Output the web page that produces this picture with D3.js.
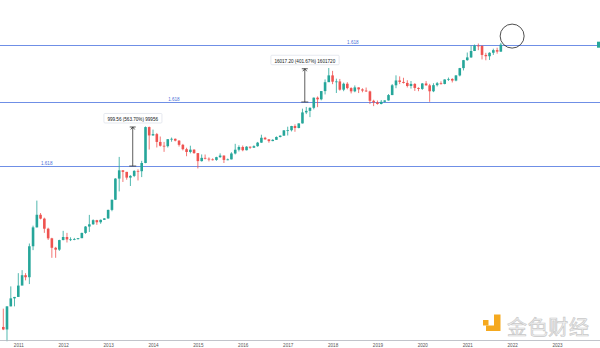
<!DOCTYPE html>
<html><head><meta charset="utf-8">
<script src="https://cdn.jsdelivr.net/npm/d3@7"></script>
<style>html,body{margin:0;padding:0;background:#fff;overflow:hidden}svg{display:block}</style>
</head><body><svg id="c" width="600" height="348"></svg>
<script>
// ---- data (monthly BTC candles, Sep 2010 .. Oct 2021) ----
const firstMonth = "2010-09";
const opens = [0.07,0.062,0.19,0.28,
 0.30,0.52,0.86,0.78,3.50,8.74,16.1,13.35,8.19,5.14,3.25,2.97,
 4.72,5.48,4.86,4.9,4.95,5.18,6.68,9.1,10.15,12.4,11.2,12.6,
 13.5,20.4,33.4,93,139,128.8,97.5,106,135,133,198,1130,
 754,803,550,457,448,628,640,585,478,387,338,378,
 320,217,254,244,236,230,263,284,230,236,314,377,
 430,368,437,416,448,531,673,624,573,609,698,745,
 964,970,1190,1080,1350,2300,2480,2875,4700,4340,6470,9950,
 13850,10200,10330,6920,9240,7480,6390,7730,7030,6630,6370,4040,
 3740,3460,3850,4110,5330,8570,10820,10090,9600,8290,9150,7540,
 7190,9350,8540,6410,8630,9450,9140,11350,11650,10780,13800,19700,
 28990,33110,45140,58790,57750,37330,35040,41460,47100,43800];
const highs = [0.17,0.19,0.50,0.30,
 0.95,1.10,0.95,4.0,9.5,32,17.5,14.0,8.6,5.28,3.4,4.8,
 7.38,6.7,5.4,5.25,5.2,6.75,9.3,16.0,12.9,12.6,12.8,13.7,
 20.6,33.4,95,266,140,129,110,140,146,220,1163,1160,
 1000,850,715,550,630,680,650,600,500,415,458,386,
 320,300,299,260,248,268,316,285,246,334,502,467,
 462,448,439,466,550,780,704,626,627,720,755,975,
 1150,1200,1290,1350,2760,3000,2940,4740,4980,6470,11400,19800,
 17250,11800,11650,9760,9950,7780,8500,7760,7410,7680,6600,4250,
 4090,4200,4140,5600,9090,13880,13200,12330,10950,10540,9510,7750,
 9580,10500,9190,9460,10070,10380,11430,12470,12070,14100,19900,29300,
 41950,58350,61780,64850,59500,41330,42400,50500,52950,67000];
const lows = [0.06,0.035,0.19,0.19,
 0.30,0.71,0.67,0.56,2.9,8.7,12.9,6.7,4.75,2.0,2.0,2.8,
 4.68,4.2,4.5,4.7,4.85,5.18,6.4,7.0,9.9,9.9,10.4,12.6,
 13.2,19.1,33,50,79,88,65,100,85,100,196,380,
 740,420,440,340,420,555,565,440,365,275,316,310,
 152,212,236,214,224,220,254,198,226,236,300,347,
 350,365,393,412,436,526,612,530,570,604,685,742,
 752,915,900,1065,1345,2120,1830,2670,2970,4130,5500,10400,
 9050,5900,6600,6430,7030,5780,6120,5880,6100,6200,3450,3120,
 3350,3400,3730,4080,5330,7440,9080,9340,7710,7300,6530,6430,
 6850,8440,3850,6150,8100,8830,8970,10600,9820,10400,13200,17600,
 28130,32300,45000,47000,30000,28800,29280,37330,39600,43280];
const closes = [0.062,0.19,0.28,0.30,
 0.52,0.86,0.78,3.50,8.74,16.1,13.35,8.19,5.14,3.25,2.97,4.72,
 5.48,4.86,4.9,4.95,5.18,6.68,9.1,10.15,12.4,11.2,12.6,13.5,
 20.4,33.4,93,139,128.8,97.5,106,135,133,198,1130,754,
 803,550,457,448,628,640,585,478,387,338,378,320,
 217,254,244,236,230,263,284,230,236,314,377,430,
 368,437,416,448,531,673,624,573,609,698,745,964,
 970,1190,1080,1350,2300,2480,2875,4700,4340,6470,9950,13850,
 10200,10330,6920,9240,7480,6390,7730,7030,6630,6370,4040,3740,
 3460,3850,4110,5330,8570,10820,10090,9600,8290,9150,7540,7190,
 9350,8540,6410,8630,9450,9140,11350,11650,10780,13800,19700,28990,
 33110,45140,58790,57750,37330,35040,41460,47100,43800,61300];

const years = [2011,2012,2013,2014,2015,2016,2017,2018,2019,2020,2021,2022,2023];
const levels = [60400, 3810, 171];
const levelLabels = ["1.618","1.618","1.618"];
const levelLabelDates = ["2018-06-15","2014-06-20","2011-08-20"];

const measureFrom = [171, 3810];
const measureTo = [1135, 19110];
const measureDates = ["2013-07-20","2017-05-20"];
const measureTexts = ["999.56 (563.70%) 99956","16017.20 (401.67%) 1601720"];

const circleMark = {date:"2022-01-01", price:93000};
const lastPrice = 61300;

// ---- scales ----
const W = 600, H = 348;
const svg = d3.select("#c");
const parseM = d3.timeParse("%Y-%m");
const parseD = d3.timeParse("%Y-%m-%d");
const x = d3.scaleTime().domain([new Date(2011,0,1), new Date(2023,0,1)]).range([18.3, 557]);
const y = d3.scaleLog().domain([0.04, 100000]).range([338.5, 34.6]);

const start = parseM(firstMonth);
const data = opens.map((o,i)=>({date:d3.timeMonth.offset(start,i),o,h:highs[i],l:lows[i],c:closes[i]}));

const green = "#26a69a", red = "#ef5350", blue = "#6f8fe6";

// level lines
const lv = svg.append("g");
lv.selectAll("line").data(levels).join("line")
  .attr("x1",0).attr("x2",W)
  .attr("y1",d=>Math.round(y(d))+0.5).attr("y2",d=>Math.round(y(d))+0.5)
  .attr("stroke",blue).attr("stroke-width",1);
lv.selectAll("text").data(levels).join("text")
  .attr("x",(d,i)=>x(parseD(levelLabelDates[i])))
  .attr("y",d=>Math.round(y(d))-1.5)
  .attr("text-anchor","middle")
  .attr("font-family","Arial, Liberation Sans, sans-serif")
  .attr("font-size",4.6).attr("fill","#4a6fd8")
  .text((d,i)=>levelLabels[i]);

// candles
const cg = svg.append("g");
const bw = 2.6;
cg.selectAll("line.w").data(data).join("line").attr("class","w")
  .attr("x1",d=>x(d.date)).attr("x2",d=>x(d.date))
  .attr("y1",d=>y(d.h)).attr("y2",d=>y(d.l))
  .attr("stroke",d=>d.c>=d.o?green:red).attr("stroke-width",0.8);
cg.selectAll("rect").data(data).join("rect")
  .attr("x",d=>x(d.date)-bw/2).attr("width",bw)
  .attr("y",d=>y(Math.max(d.o,d.c)))
  .attr("height",d=>Math.max(0.8, Math.abs(y(d.o)-y(d.c))))
  .attr("fill",d=>d.c>=d.o?green:red);

// measure arrows and labels
const mg = svg.append("g");
measureFrom.forEach((f,i)=>{
  const xx = x(parseD(measureDates[i]));
  const y0 = y(f), y1 = y(measureTo[i]);
  mg.append("line").attr("x1",xx).attr("x2",xx).attr("y1",y0).attr("y2",y1)
    .attr("stroke","#333").attr("stroke-width",0.8);
  mg.append("line").attr("x1",xx-3.5).attr("x2",xx+3.5).attr("y1",y0).attr("y2",y0)
    .attr("stroke","#333").attr("stroke-width",0.8);
  mg.append("line").attr("x1",xx-3).attr("x2",xx+3).attr("y1",y1).attr("y2",y1)
    .attr("stroke","#333").attr("stroke-width",0.8);
  mg.append("path").attr("d",`M${xx-2},${y1+2.5}L${xx},${y1}L${xx+2},${y1+2.5}`)
    .attr("fill","none").attr("stroke","#333").attr("stroke-width",0.8);
  const t = mg.append("text").attr("x",xx).attr("y",y1-6.2)
    .attr("text-anchor","middle")
    .attr("font-family","Arial, Liberation Sans, sans-serif")
    .attr("font-size",4.6).attr("fill","#131722").text(measureTexts[i]);
  const bb = t.node().getBBox();
  mg.insert("rect", () => t.node())
    .attr("x",bb.x-3.5).attr("y",y1-13.5).attr("width",bb.width+7).attr("height",9.5)
    .attr("rx",1).attr("fill","#fff").attr("stroke","#e0e3eb").attr("stroke-width",0.8);
});

// circle marker
svg.append("circle").attr("cx",x(parseD(circleMark.date))).attr("cy",y(circleMark.price))
  .attr("r",12).attr("fill","none").attr("stroke","#222").attr("stroke-width",0.8);

// last price tag at right edge
svg.append("rect").attr("x",W-3).attr("y",y(lastPrice)-3).attr("width",3).attr("height",6).attr("fill",green);

// x axis
svg.append("line").attr("x1",0).attr("x2",W).attr("y1",340.5).attr("y2",340.5)
  .attr("stroke","#b2b5be").attr("stroke-width",0.8);
const ax = svg.append("g").attr("transform","translate(0,340)")
  .call(d3.axisBottom(x).tickValues(years.map(v=>new Date(v,0,1))).tickFormat(d3.timeFormat("%Y")).tickSize(0).tickPadding(3.5));
ax.select(".domain").remove();
ax.selectAll("text").attr("font-family","Arial, Liberation Sans, sans-serif").attr("font-size",4.6).attr("fill","#555");

// watermark
const wm = svg.append("g");
wm.append("rect").attr("x",483).attr("y",320).attr("width",5.5).attr("height",5.5).attr("fill","#f5a91f");
wm.append("path").attr("d","M494,314.5 H500.5 V331 H486 V325.5 H494 Z").attr("fill","#f5a91f");
wm.append("text").attr("x",507).attr("y",334.5)
  .attr("font-family","Noto Sans CJK SC, sans-serif").attr("font-size",20)
  .attr("fill","#f2f2f2").attr("stroke","#c9c9c9").attr("stroke-width",0.7)
  .attr("textLength",82)
  .text("金色财经");
</script></body></html>
